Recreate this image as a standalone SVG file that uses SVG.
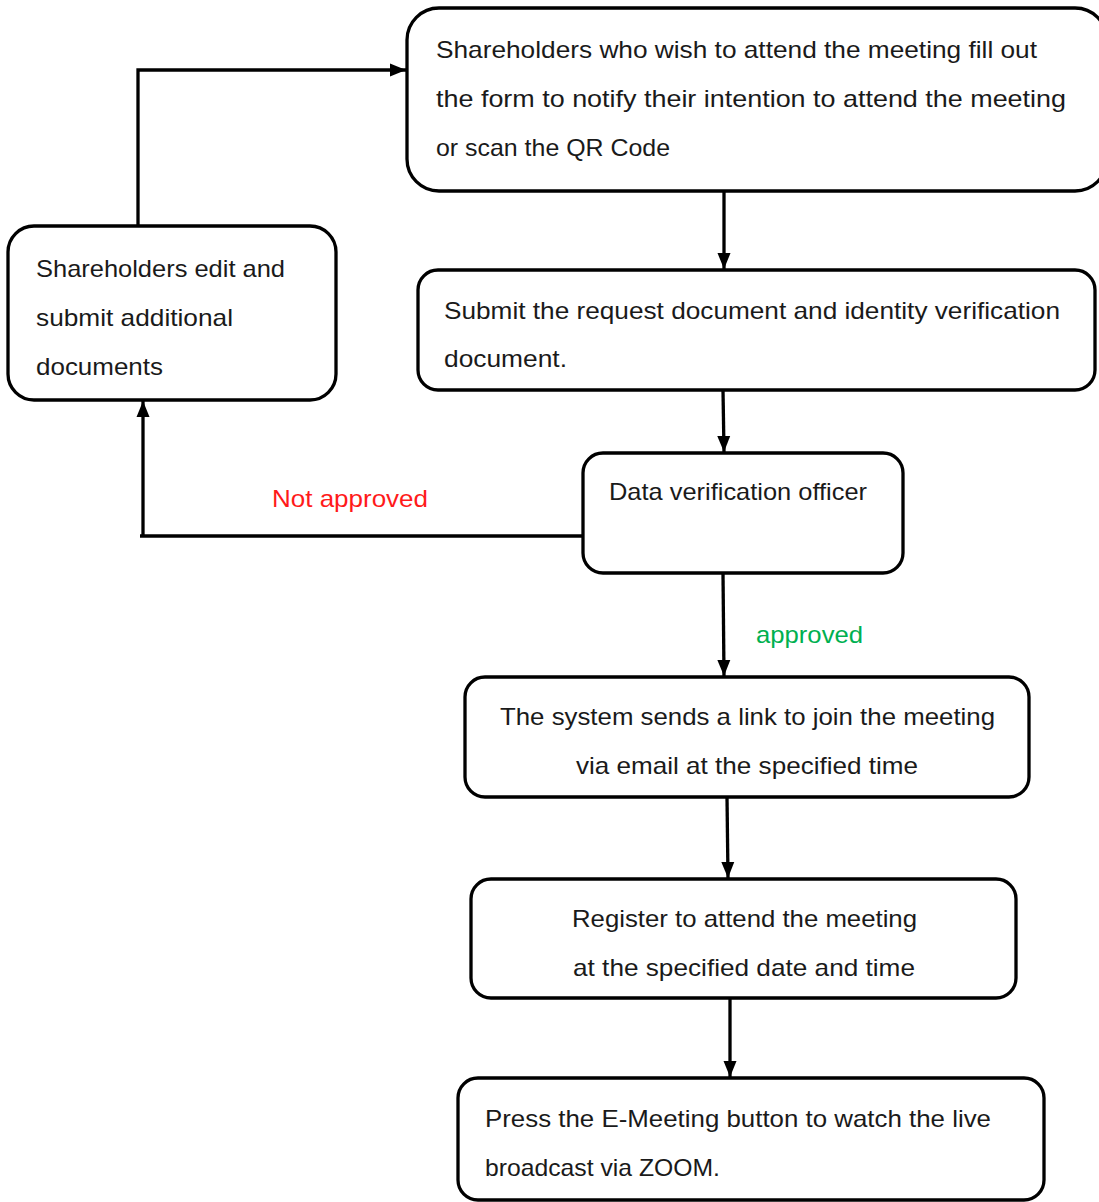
<svg xmlns="http://www.w3.org/2000/svg" width="1099" height="1202" viewBox="0 0 1099 1202">
<defs>
<marker id="arr" markerUnits="userSpaceOnUse" markerWidth="16" markerHeight="16" viewBox="0 0 16 16" refX="16" refY="8" orient="auto">
<path d="M0,1.5 L16,8 L0,14.5 Z" fill="#000"/>
</marker>
<style>
.box{fill:#fff;stroke:#000;stroke-width:3.3}
.c{fill:none;stroke:#000;stroke-width:3.3}
text{font-family:"Liberation Sans",Arial,sans-serif;font-size:24px;fill:#1a1a1a}
.red{fill:#ff1a1a}
.green{fill:#00b050}
</style>
</defs>
<rect width="1099" height="1202" fill="#fff"/>
<g id="connectors">
<polyline class="c" points="138,226 138,70 406,70" marker-end="url(#arr)"/>
<line class="c" x1="724" y1="191" x2="724" y2="269" marker-end="url(#arr)"/>
<line class="c" x1="723" y1="390" x2="724" y2="452" marker-end="url(#arr)"/>
<polyline class="c" points="583,536 140,536" />
<line class="c" x1="143" y1="537" x2="143" y2="401" marker-end="url(#arr)"/>
<line class="c" x1="723" y1="573" x2="724" y2="676" marker-end="url(#arr)"/>
<line class="c" x1="727" y1="797" x2="728" y2="878" marker-end="url(#arr)"/>
<line class="c" x1="730" y1="998" x2="730" y2="1077" marker-end="url(#arr)"/>
<text class="red" x="272" y="507" textLength="156" lengthAdjust="spacingAndGlyphs">Not approved</text>
<text class="green" x="756" y="643" textLength="107" lengthAdjust="spacingAndGlyphs">approved</text>
</g>
<g id="n1">
<rect class="box" x="407" y="8" width="700" height="183" rx="32"/>
<text x="436" y="58" textLength="601" lengthAdjust="spacingAndGlyphs">Shareholders who wish to attend the meeting fill out</text>
<text x="436" y="107" textLength="630" lengthAdjust="spacingAndGlyphs">the form to notify their intention to attend the meeting</text>
<text x="436" y="156" textLength="234" lengthAdjust="spacingAndGlyphs">or scan the QR Code</text>
</g>
<g id="n_edit">
<rect class="box" x="8" y="226" width="328" height="174" rx="26"/>
<text x="36" y="277" textLength="249" lengthAdjust="spacingAndGlyphs">Shareholders edit and</text>
<text x="36" y="326" textLength="197" lengthAdjust="spacingAndGlyphs">submit additional</text>
<text x="36" y="375" textLength="127" lengthAdjust="spacingAndGlyphs">documents</text>
</g>
<g id="n2">
<rect class="box" x="418" y="270" width="677" height="120" rx="20"/>
<text x="444" y="319" textLength="616" lengthAdjust="spacingAndGlyphs">Submit the request document and identity verification</text>
<text x="444" y="367" textLength="123" lengthAdjust="spacingAndGlyphs">document.</text>
</g>
<g id="n_dvo">
<rect class="box" x="583" y="453" width="320" height="120" rx="20"/>
<text x="609" y="500" textLength="258" lengthAdjust="spacingAndGlyphs">Data verification officer</text>
</g>
<g id="n_system">
<rect class="box" x="465" y="677" width="564" height="120" rx="20"/>
<text x="500" y="725" textLength="495" lengthAdjust="spacingAndGlyphs">The system sends a link to join the meeting</text>
<text x="576" y="774" textLength="342" lengthAdjust="spacingAndGlyphs">via email at the specified time</text>
</g>
<g id="n_register">
<rect class="box" x="471" y="879" width="545" height="119" rx="20"/>
<text x="572" y="927" textLength="345" lengthAdjust="spacingAndGlyphs">Register to attend the meeting</text>
<text x="573" y="976" textLength="342" lengthAdjust="spacingAndGlyphs">at the specified date and time</text>
</g>
<g id="n_press">
<rect class="box" x="458" y="1078" width="586" height="122" rx="20"/>
<text x="485" y="1127" textLength="506" lengthAdjust="spacingAndGlyphs">Press the E-Meeting button to watch the live</text>
<text x="485" y="1176" textLength="235" lengthAdjust="spacingAndGlyphs">broadcast via ZOOM.</text>
</g>
</svg>
